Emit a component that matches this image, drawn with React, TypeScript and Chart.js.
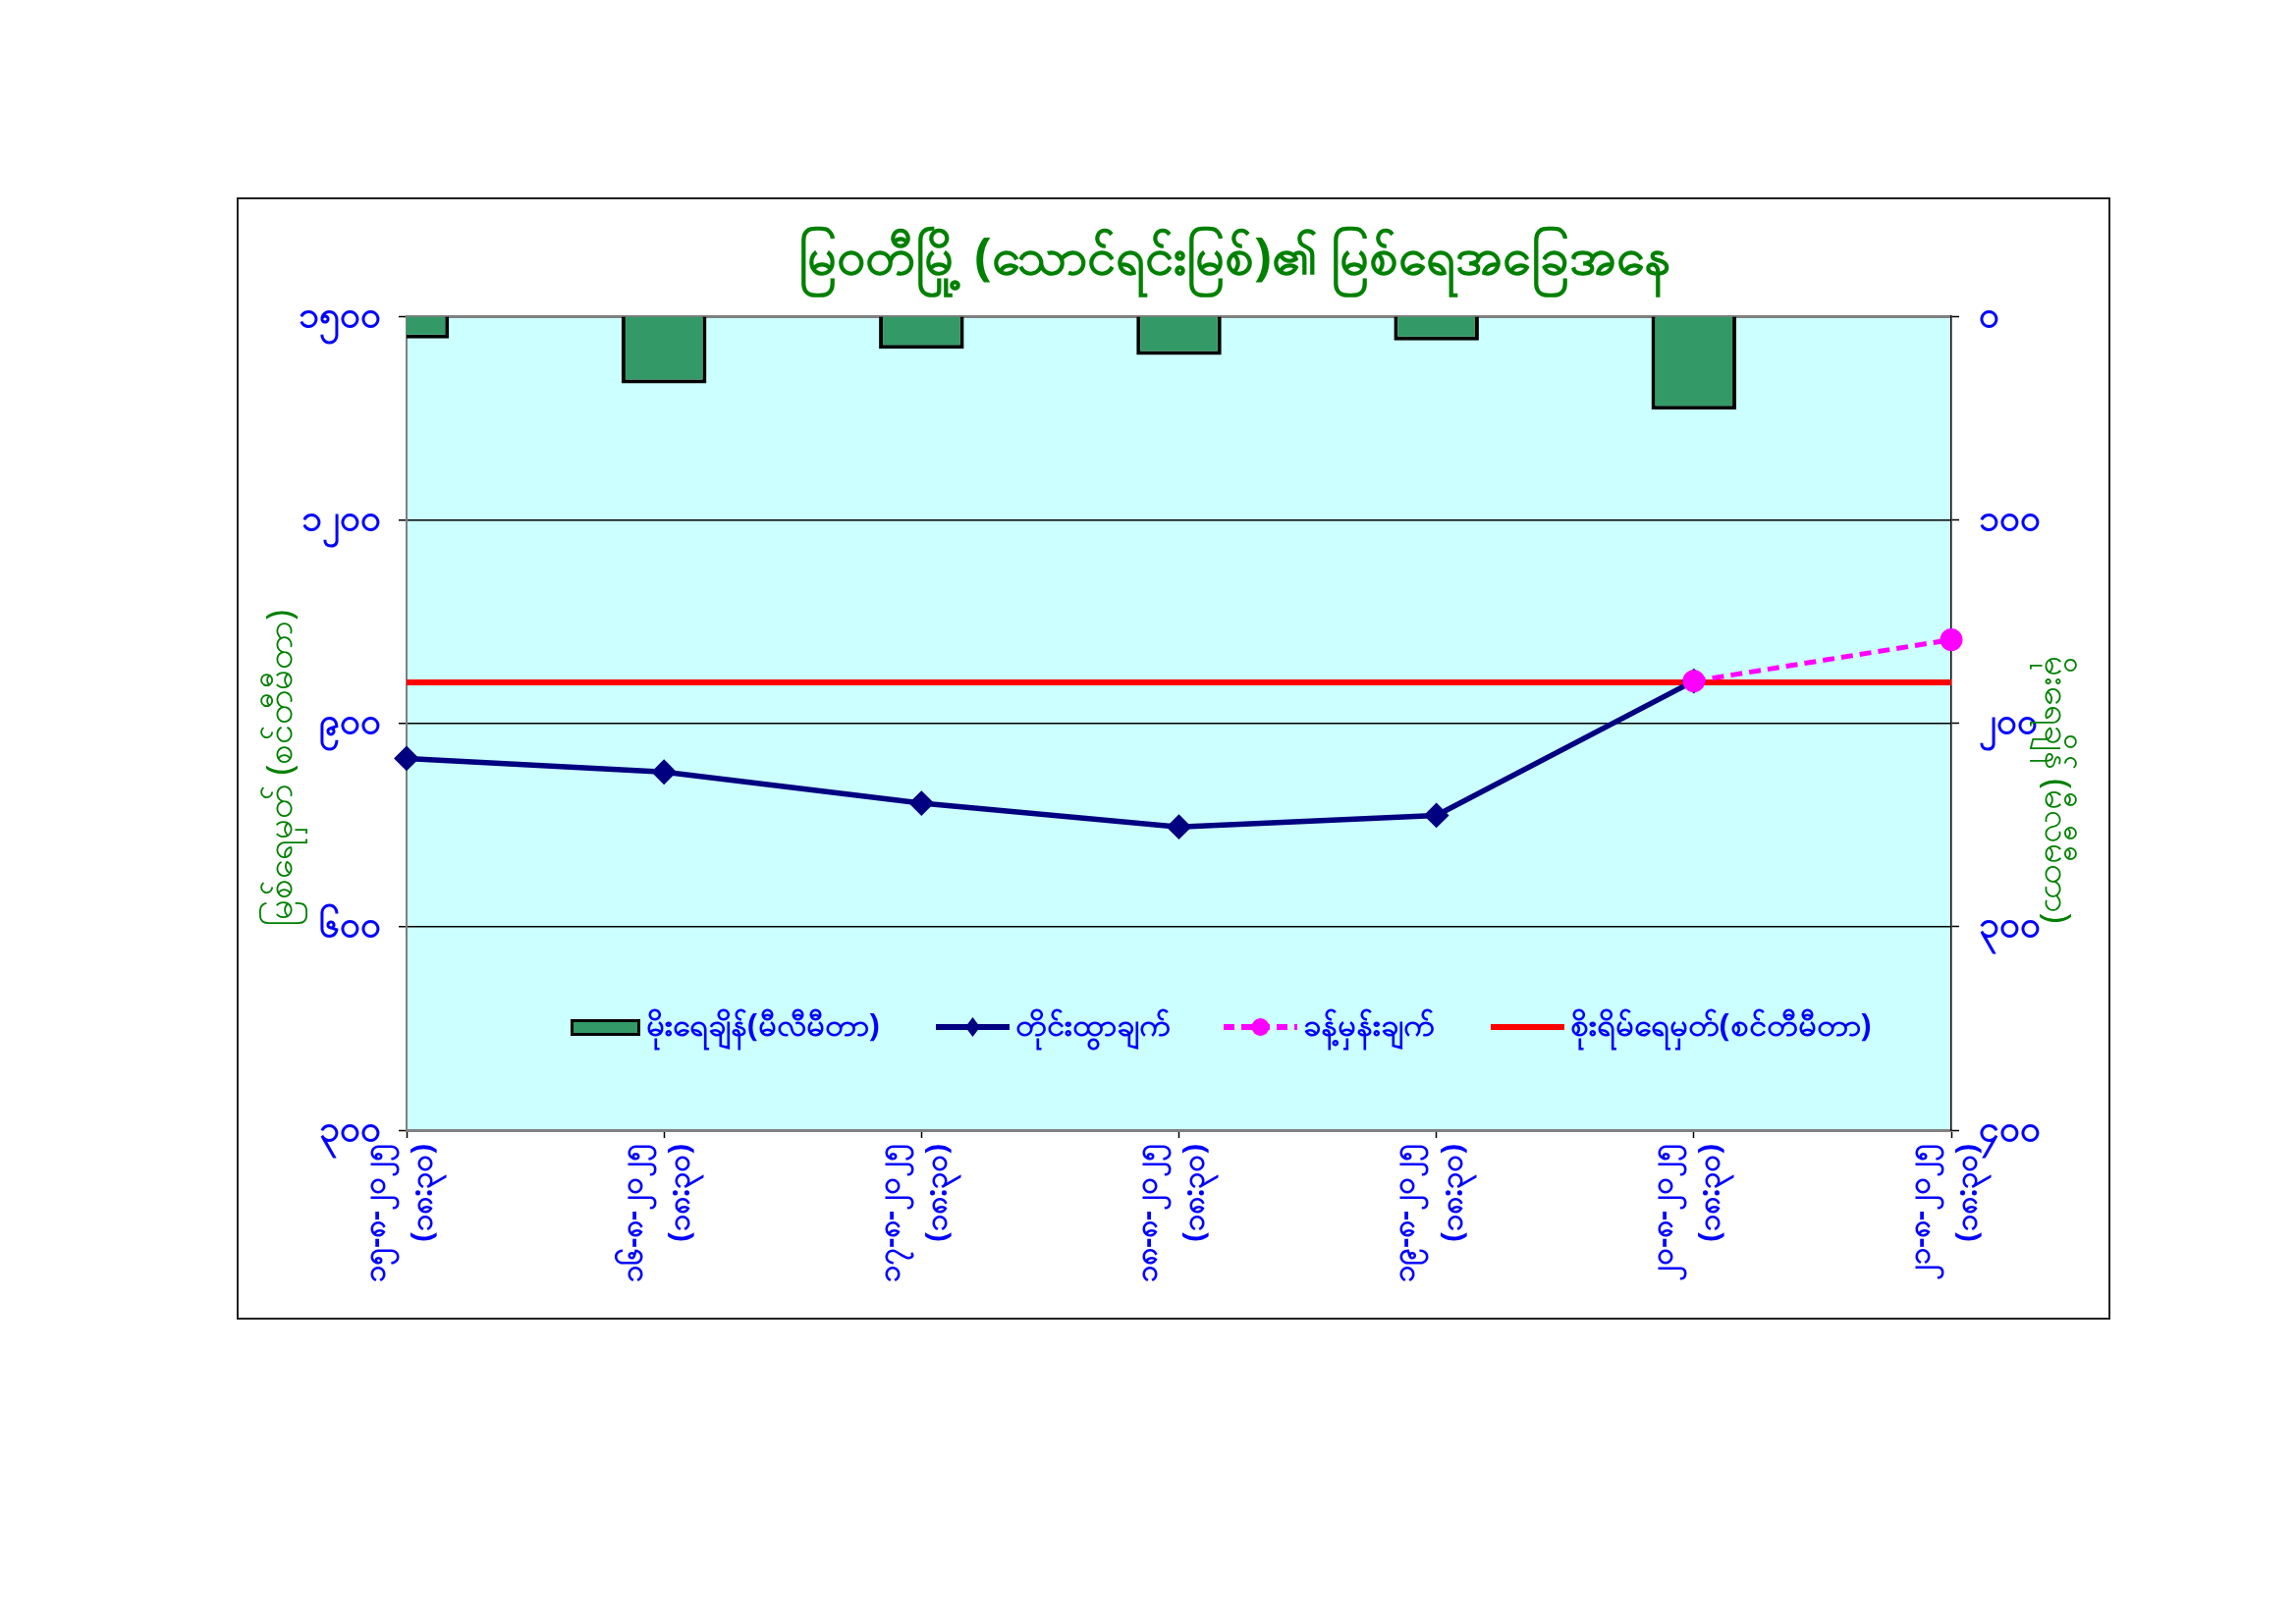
import { useEffect, useRef } from 'react';
import { Chart, registerables } from 'chart.js';

Chart.register(...registerables);

const FONT = '"Noto Sans", "DejaVu Sans", sans-serif';

const chartTitle = 'မြဝတီမြို့ (သောင်ရင်းမြစ်)၏ မြစ်ရေအခြေအနေ';
const leftAxisTitle = 'မြစ်ရေမှတ် (စင်တီမီတာ)';
const rightAxisTitle = 'မိုးရေချိန် (မီလီမီတာ)';

const dates = ['၁၅-၈-၂၀၂၅', '၁၆-၈-၂၀၂၅', '၁၇-၈-၂၀၂၅', '၁၈-၈-၂၀၂၅', '၁၉-၈-၂၀၂၅', '၂၀-၈-၂၀၂၅', '၂၁-၈-၂၀၂၅'];
const times = ['(၁၈:၃၀)', '(၁၈:၃၀)', '(၁၈:၃၀)', '(၁၈:၃၀)', '(၁၈:၃၀)', '(၁၈:၃၀)', '(၁၈:၃၀)'];

const rainfall = [11, 33, 16, 19, 12, 46, null];
const observed = [848, 828, 782, 747, 764, 962, null];
const forecast = [null, null, null, null, null, 962, 1023];
const dangerLevel = [960, 960, 960, 960, 960, 960, 960];

const leftTicks = [300, 600, 900, 1200, 1500];
const rightTicks = [0, 100, 200, 300, 400];

const seriesNames = ['မိုးရေချိန်(မီလီမီတာ)', 'တိုင်းထွာချက်', 'ခန့်မှန်းချက်', 'စိုးရိမ်ရေမှတ်(စင်တီမီတာ)'];

const toMyanmar = (n: number) => String(n).replace(/[0-9]/g, d => String.fromCharCode(0x1040 + Number(d)));

const axisTitles = {
  id: 'axisTitles',
  afterDraw(chart: Chart) {
    const ctx = chart.ctx;
    ctx.save();
    ctx.fillStyle = '#008000';
    ctx.font = `36px ${FONT}`;
    ctx.textAlign = 'center';
    ctx.textBaseline = 'middle';
    ctx.save();
    ctx.translate(46, 581);
    ctx.rotate(-Math.PI / 2);
    ctx.fillText(leftAxisTitle, 0, 0);
    ctx.restore();
    ctx.translate(1852, 603);
    ctx.rotate(Math.PI / 2);
    ctx.fillText(rightAxisTitle, 0, 0);
    ctx.restore();
  },
};

function LegendLine({ color, dash, marker }: { color: string; dash?: boolean; marker?: 'diamond' | 'circle' }) {
  return (
    <svg width="75" height="24" style={{ display: 'block' }}>
      <line x1="0" y1="12" x2="75" y2="12" stroke={color} strokeWidth="6" strokeDasharray={dash ? '11 7' : undefined} />
      {marker === 'diamond' && <polygon points="37.5,2 45,12 37.5,22 30,12" fill={color} />}
      {marker === 'circle' && <circle cx="37.5" cy="12" r="9" fill={color} />}
    </svg>
  );
}

export default function App() {
  const chartRef = useRef<HTMLCanvasElement>(null);

  useEffect(() => {
    if (!chartRef.current) return;
    const chart = new Chart(chartRef.current, {
      type: 'bar',
      data: {
        labels: dates.map((d, i) => [d, times[i]]),
        datasets: [
          {
            type: 'bar',
            label: seriesNames[0],
            data: rainfall,
            yAxisID: 'y2',
            backgroundColor: '#339966',
            borderColor: '#000000',
            borderWidth: 4,
            barPercentage: 0.33,
            categoryPercentage: 1,
            order: 4,
          },
          {
            type: 'line',
            label: seriesNames[3],
            data: dangerLevel,
            yAxisID: 'y',
            borderColor: '#FF0000',
            borderWidth: 6,
            pointRadius: 0,
            order: 3,
          },
          {
            type: 'line',
            label: seriesNames[1],
            data: observed,
            yAxisID: 'y',
            borderColor: '#000080',
            backgroundColor: '#000080',
            borderWidth: 5.5,
            pointStyle: 'rectRot',
            pointRadius: 9,
            order: 2,
          },
          {
            type: 'line',
            label: seriesNames[2],
            data: forecast,
            yAxisID: 'y',
            borderColor: '#FF00FF',
            backgroundColor: '#FF00FF',
            borderWidth: 5,
            borderDash: [12, 7],
            pointStyle: 'circle',
            pointRadius: 9,
            order: 1,
          },
        ],
      },
      options: {
        responsive: true,
        maintainAspectRatio: false,
        animation: false,
        layout: { padding: { top: 121, left: 0, right: 0, bottom: 0 } },
        plugins: {
          legend: { display: false },
          title: { display: false },
          tooltip: { enabled: false },
        },
        scales: {
          x: {
            offset: false,
            grid: { offset: false, drawOnChartArea: false, tickLength: 8, tickColor: '#000', tickWidth: 1.5 },
            border: { color: '#808080', width: 3 },
            ticks: {
              color: '#0000FF',
              font: { family: FONT, size: 31, weight: 'bold', lineHeight: 1.55 },
              minRotation: 90,
              maxRotation: 90,
              padding: 6,
              labelOffset: -31,
              autoSkip: false,
            },
            afterFit: (s: any) => { s.height = 193; },
          },
          y: {
            position: 'left',
            min: leftTicks[0],
            max: leftTicks[leftTicks.length - 1],
            afterBuildTicks: (s: any) => { s.ticks = leftTicks.map(v => ({ value: v })); },
            grid: {
              color: (c: any) => (c.tick && (c.tick.value === 1500 || c.tick.value === 300) ? '#808080' : '#000000'),
              lineWidth: (c: any) => (c.tick && (c.tick.value === 1500 || c.tick.value === 300) ? 3 : 1.5),
              tickLength: 8,
              tickColor: '#000',
              tickWidth: 1.5,
            },
            border: { color: '#808080', width: 2 },
            ticks: {
              color: '#0000FF',
              font: { family: FONT, size: 37, weight: 'bold' },
              padding: 18,
              callback: (v: any) => toMyanmar(Number(v)),
            },
            afterFit: (s: any) => { s.width = 173; },
          },
          y2: {
            position: 'right',
            reverse: true,
            min: rightTicks[0],
            max: rightTicks[rightTicks.length - 1],
            afterBuildTicks: (s: any) => { s.ticks = rightTicks.map(v => ({ value: v })); },
            grid: { drawOnChartArea: false, tickLength: 8, tickColor: '#000', tickWidth: 1.5 },
            border: { color: '#000000', width: 1.5 },
            ticks: {
              color: '#0000FF',
              font: { family: FONT, size: 37, weight: 'bold' },
              padding: 20,
              callback: (v: any) => toMyanmar(Number(v)),
            },
            afterFit: (s: any) => { s.width = 162; },
          },
        },
      },
      plugins: [
        {
          id: 'plotBg',
          beforeDraw(c: Chart) {
            const { ctx, chartArea } = c;
            ctx.save();
            ctx.fillStyle = '#CCFFFF';
            ctx.fillRect(chartArea.left, chartArea.top, chartArea.right - chartArea.left, chartArea.bottom - chartArea.top);
            ctx.restore();
          },
        },
        axisTitles,
      ],
    });
    return () => chart.destroy();
  }, []);

  const legendText: React.CSSProperties = { color: '#0000FF', fontWeight: 'bold', fontSize: 32, fontFamily: FONT, whiteSpace: 'nowrap' };

  return (
    <div>
      <div style={{ position: 'absolute', left: 241, top: 201, width: 1908, height: 1143, border: '2px solid #222', boxSizing: 'border-box' }} />
      <div style={{ position: 'absolute', left: 241, top: 201, width: 1908, height: 1143 }}>
        <canvas ref={chartRef} />
      </div>
      <div style={{ position: 'absolute', left: 757, top: 219, width: 1000, textAlign: 'center', color: '#008000', fontFamily: FONT, fontWeight: 'bold', fontSize: 52, lineHeight: '80px', whiteSpace: 'nowrap' }}>
        {chartTitle}
      </div>
      <div style={{ position: 'absolute', left: 581, top: 1024, height: 44, display: 'flex', alignItems: 'center', gap: 0 }}>
        <div style={{ width: 65, height: 11, background: '#339966', border: '3px solid #000', marginRight: 6 }} />
        <span style={legendText}>{seriesNames[0]}</span>
        <div style={{ width: 57 }} />
        <LegendLine color="#000080" marker="diamond" />
        <span style={{ ...legendText, marginLeft: 6 }}>{seriesNames[1]}</span>
        <div style={{ width: 54 }} />
        <LegendLine color="#FF00FF" dash marker="circle" />
        <span style={{ ...legendText, marginLeft: 6 }}>{seriesNames[2]}</span>
        <div style={{ width: 57 }} />
        <LegendLine color="#FF0000" />
        <span style={{ ...legendText, marginLeft: 6 }}>{seriesNames[3]}</span>
      </div>
    </div>
  );
}
